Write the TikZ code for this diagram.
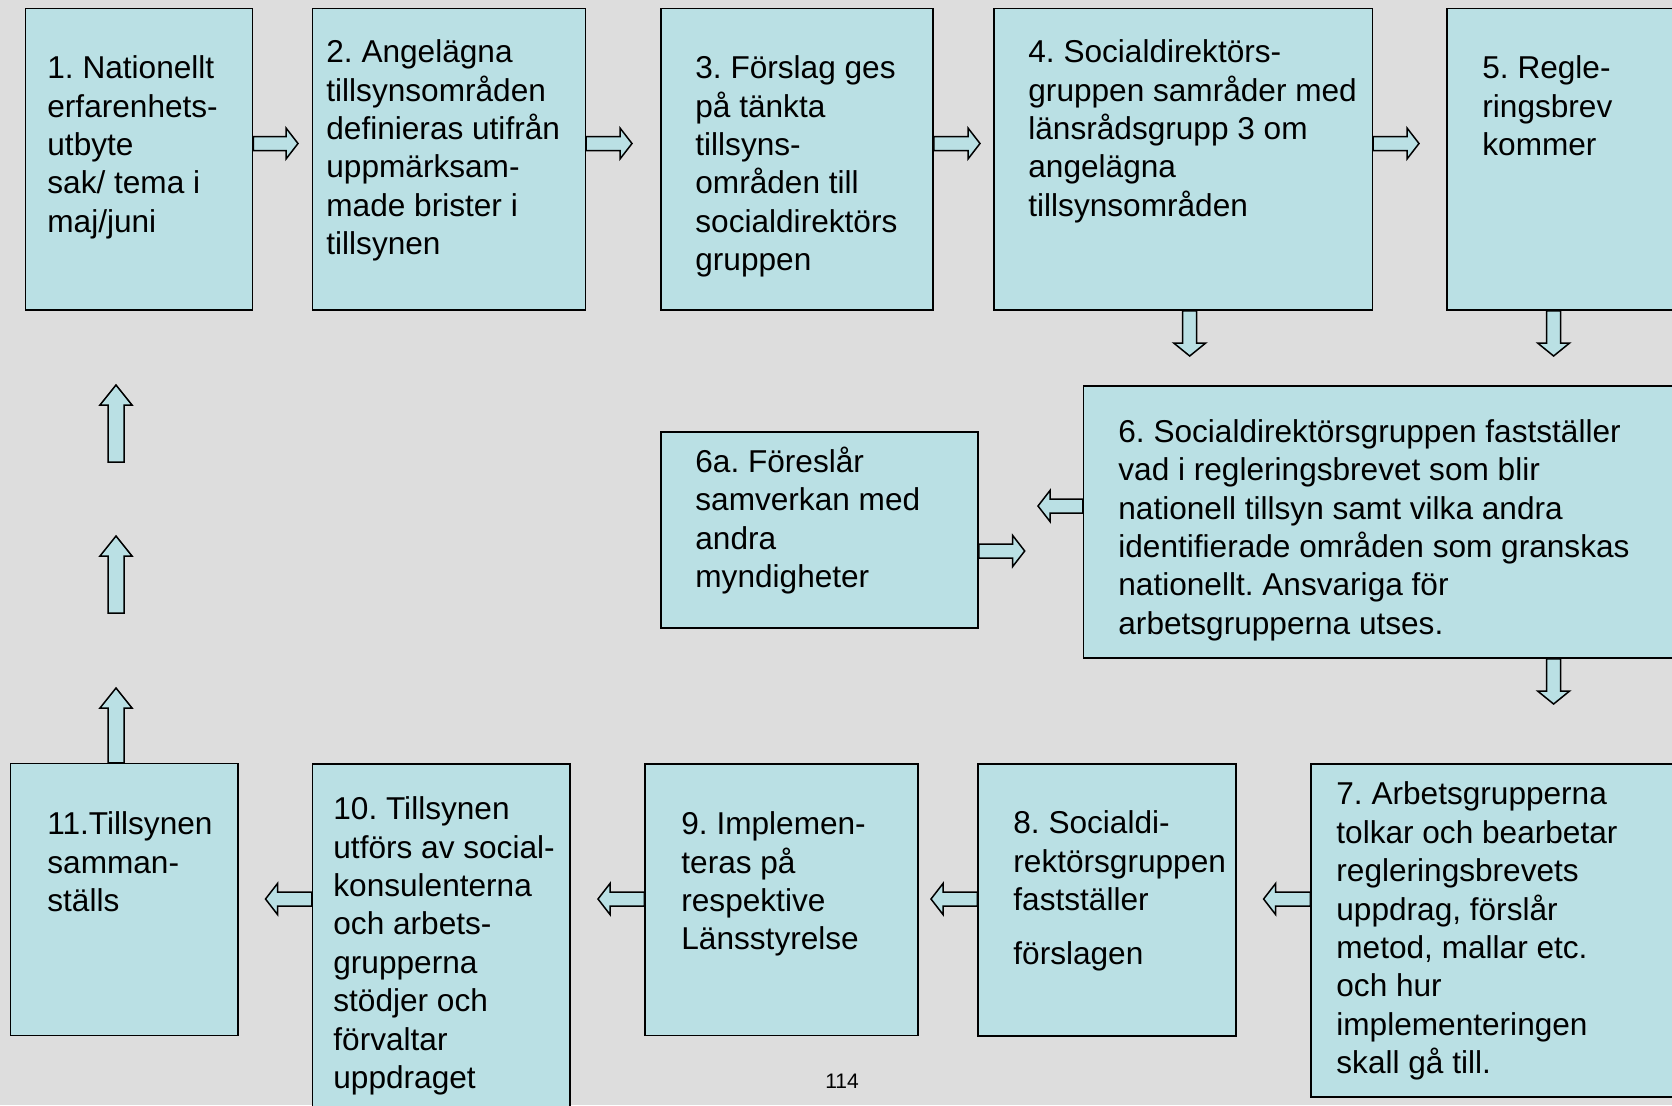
\documentclass[tikz,border=0pt]{standalone}
\usepackage{fontspec}
\setmainfont{Liberation Sans}
\usepackage{tikz}
\usetikzlibrary{calc,fit}
\definecolor{slidebg}{RGB}{221,221,221}
\definecolor{boxfill}{RGB}{186,224,228}

\begin{document}
\begin{tikzpicture}[x=0.5pt,y=-0.5pt,
	box/.style={draw=black,line width=0.75pt,fill=boxfill,inner sep=0pt},
	txt/.style={anchor=base west,inner sep=0pt,align=left,font=\fontsize{15.8}{19.2}\selectfont\frenchspacing},
	blockarr/.style n args={3}{draw=black,line width=0.75pt,fill=boxfill,line join=miter,
		to path={let \p1=(\tikztostart),\p2=(\tikztotarget),
			\n1={atan2(\y2-\y1,\x2-\x1)},\n2={veclen(\x2-\x1,\y2-\y1)} in
			{[shift={(\p1)},rotate=\n1,x=1pt,y=1pt]
			(0,-#1) -- (\n2-#3,-#1) -- (\n2-#3,-#2) -- (\n2,0) -- (\n2-#3,#2) -- (\n2-#3,#1) -- (0,#1) -- cycle}}},
	rarr/.style={blockarr={3.5}{7.75}{6}},
	darr/.style={blockarr={3.5}{8}{6.5}},
	uarr/.style={blockarr={4}{8}{10}}]
	\path[use as bounding box] (0,0) rectangle (1672,1105);
	\clip (0,0) rectangle (1672,1105);
	\fill[slidebg] (0,0) rectangle (1672,1105);

	% boxes
	\node[box,fit={(25.6,8.5) (252.7,310)}] (b1) {};
	\node[box,fit={(312.4,8.5) (585.4,310)}] (b2) {};
	\node[box,fit={(661,8.5) (933,310)}] (b3) {};
	\node[box,fit={(994,8.5) (1372.3,310)}] (b4) {};
	\node[box,fit={(1447,8.5) (1700,310)}] (b5) {};
	\node[box,fit={(1083.5,386) (1700,658)}] (b6) {};
	\node[box,fit={(661,432) (978,628)}] (b6a) {};
	\node[box,fit={(1311,764) (1700,1097)}] (b7) {};
	\node[box,fit={(978,764) (1236,1036)}] (b8) {};
	\node[box,fit={(645,764) (918,1035.5)}] (b9) {};
	\node[box,fit={(312.5,764) (570,1130)}] (b10) {};
	\node[box,fit={(10.7,763.5) (237.8,1035.4)}] (b11) {};

	% texts, placed at the baseline of their last line
	\node[txt] (t1) at (47,232.3) {1. Nationellt\\erfarenhets-\\utbyte\\sak/ tema i\\maj/juni};
	\node[txt] (t2) at (326,254.7) {2. Angelägna\\tillsynsområden\\definieras utifrån\\uppmärksam-\\made brister i\\tillsynen};
	\node[txt] (t3) at (695,270.7) {3. Förslag ges\\på tänkta\\tillsyns-\\områden till\\socialdirektörs\\gruppen};
	\node[txt] (t4) at (1028,216.3) {4. Socialdirektörs-\\gruppen samråder med\\länsrådsgrupp 3 om\\angelägna\\tillsynsområden};
	\node[txt] (t5) at (1482,155.5) {5. Regle-\\ringsbrev\\kommer};
	\node[txt] (t6) at (1118,634.3) {6. Socialdirektörsgruppen fastställer\\vad i regleringsbrevet som blir\\nationell tillsyn samt vilka andra\\identifierade områden som granskas\\nationellt. Ansvariga för\\arbetsgrupperna utses.};
	\node[txt] (t6a) at (695,587.4) {6a. Föreslår\\samverkan med\\andra\\myndigheter};
	\node[txt] (t7) at (1336,1073.6) {7. Arbetsgrupperna\\tolkar och bearbetar\\regleringsbrevets\\uppdrag, förslår\\metod, mallar etc.\\och hur\\implementeringen\\skall gå till.};
	\node[txt] (t8) at (1013,964.8) {8. Socialdi-\\rektörsgruppen\\fastställer\\[8pt]förslagen};
	\node[txt] (t9) at (681,949.9) {9. Implemen-\\teras på\\respektive\\Länsstyrelse};
	\node[txt] (t10) at (333,1088.5) {10. Tillsynen\\utförs av social-\\konsulenterna\\och arbets-\\grupperna\\stödjer och\\förvaltar\\uppdraget};
	\node[txt] (t11) at (47,911.5) {11.Tillsynen\\samman-\\ställs};

	% arrows
	\coordinate (e12) at (298,143.5);
	\coordinate (e23) at (632,143.5);
	\coordinate (e34) at (980,143.5);
	\coordinate (e45) at (1419,143.5);
	\draw[rarr] (b1.east |- e12) to (e12);
	\draw[rarr] (b2.east |- e23) to (e23);
	\draw[rarr] (b3.east |- e34) to (e34);
	\draw[rarr] (b4.east |- e45) to (e45);
	\coordinate (d4) at (1189.7,356);
	\coordinate (d5) at (1553.6,356);
	\coordinate (d6) at (1553.6,704);
	\draw[darr] (b4.south -| d4) to (d4);
	\draw[darr] (b5.south -| d5) to (d5);
	\draw[darr] (b6.south -| d6) to (d6);
	\coordinate (l6) at (1038,506);
	\coordinate (r6a) at (1024.7,551);
	\draw[rarr] (b6.west |- l6) to (l6);
	\draw[rarr] (b6a.east |- r6a) to (r6a);
	\coordinate (l7) at (1263.6,899);
	\coordinate (l8) at (931,899);
	\coordinate (l9) at (598,899);
	\coordinate (l10) at (265.5,899);
	\draw[rarr] (b7.west |- l7) to (l7);
	\draw[rarr] (b8.west |- l8) to (l8);
	\draw[rarr] (b9.west |- l9) to (l9);
	\draw[rarr] (b10.west |- l10) to (l10);
	\coordinate (u11) at (116,688);
	\coordinate (u2a) at (116,613);
	\coordinate (u2b) at (116,536);
	\coordinate (u3a) at (116,462);
	\coordinate (u3b) at (116,385);
	\draw[uarr] (b11.north -| u11) to (u11);
	\draw[uarr] (u2a) to (u2b);
	\draw[uarr] (u3a) to (u3b);

	\node[anchor=base,font=\fontsize{10.5}{12}\selectfont] (pg) at (842,1088) {114};
\end{tikzpicture}
\end{document}
